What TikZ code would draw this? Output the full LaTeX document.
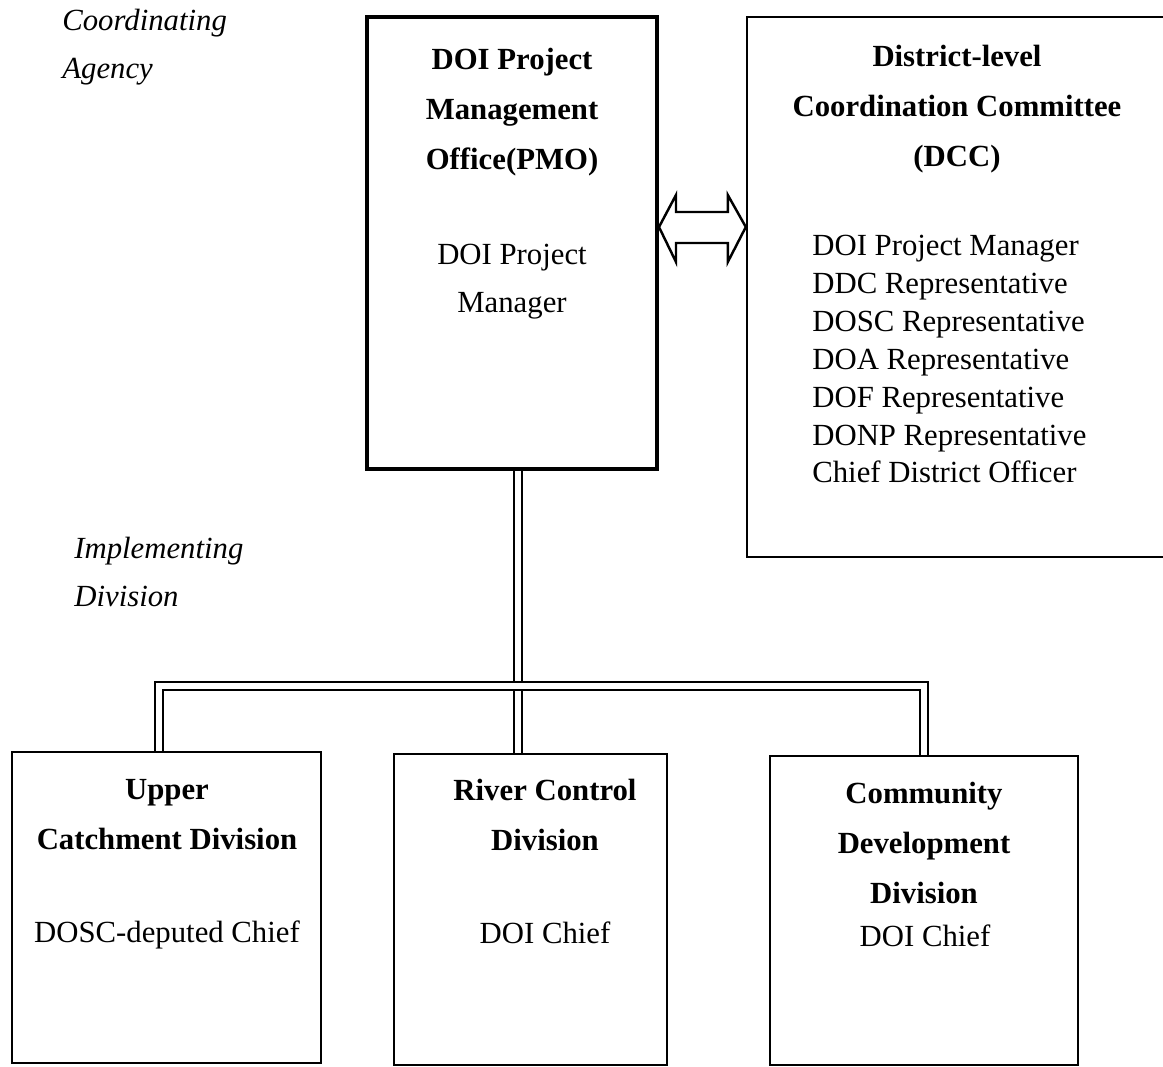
\documentclass[tikz,border=0pt]{standalone}
\usepackage{fontspec}
\setmainfont{Liberation Serif}
\usetikzlibrary{calc}

\begin{document}
\begin{tikzpicture}[x=0.02cm,y=-0.02cm,
    box/.style={draw, line width=1.4pt, inner sep=0pt},
    link/.style={draw, double, line width=0.9pt, double distance=3.5pt},
    head/.style={font=\bfseries\fontsize{17.5}{28.4}\selectfont, align=center, anchor=north, inner sep=0pt},
    body/.style={font=\fontsize{17.5}{27.3}\selectfont, align=center, anchor=north, inner sep=0pt},
    side/.style={font=\itshape\fontsize{17.5}{27.3}\selectfont, align=left, anchor=north west, inner sep=0pt},
    member/.style={font=\fontsize{17.5}{21.5}\selectfont, anchor=base west, inner sep=0pt}]

  \clip (0,0) rectangle (1163,1067);

  \begin{scope}[every node/.style={box}]
    \node[line width=2.3pt, minimum width=5.8cm, minimum height=9.04cm] (pmo) at (512,243) {};
    \node[minimum width=8.56cm, minimum height=10.8cm] (dcc) at (961,287) {};
    \node[minimum width=6.18cm, minimum height=6.22cm] (uc) at (166.5,907.5) {};
    \node[minimum width=5.46cm, minimum height=6.22cm] (rc) at (530.5,909.5) {};
    \node[minimum width=6.16cm, minimum height=6.18cm] (cd) at (924,910.5) {};
  \end{scope}

  % side labels
  \node[side] (agency) at (62,9) {Coordinating\\Agency};
  \node[side] (impl) at (74,537) {Implementing\\Division};

  % project office
  \node[head] (pmohead) at (512,48) {DOI Project\\Management\\Office(PMO)};
  \node[body] (pmobody) at (512,244) {DOI Project\\Manager};

  % district committee
  \node[head] (dcchead) at (957,45) {District-level\\Coordination Committee\\(DCC)};
  \foreach \who [count=\i from 0] in {DOI Project Manager, DDC Representative,
      DOSC Representative, DOA Representative, DOF Representative,
      DONP Representative, Chief District Officer}
    \node[member] (dcc\i) at (812,256+37.8*\i) {\who};

  % divisions
  \node[head] (uchead) at (167,779) {Upper\\Catchment Division};
  \node[body] (ucbody) at (167,920) {DOSC-deputed Chief};
  \node[head] (rchead) at (545,779) {River Control\\Division};
  \node[body] (rcbody) at (545,921) {DOI Chief};
  \node[head] (cdhead) at (924,782) {Community\\Development\\Division};
  \node[body] (cdbody) at (925,924) {DOI Chief};

  % two-way arrow between office and committee
  \coordinate (ltip) at (pmo.east |- 0,227);
  \coordinate (rtip) at (dcc.west |- 0,227);
  \draw[line width=1.4pt, line join=miter] (ltip) -- ++(17,-32) -- ++(0,17)
    -- ($(rtip)+(-18,-15)$) -- ++(0,-17) -- (rtip) -- ++(-18,35) -- ++(0,-19)
    -- ($(ltip)+(17,16)$) -- ++(0,19) -- cycle;

  % reporting lines
  \coordinate (bus) at (518,686);
  \coordinate (ucdrop) at (159,686);
  \coordinate (cddrop) at (924,686);
  \draw[link] (pmo.south -| bus) -- (rc.north -| bus);
  \draw[link] (uc.north -| ucdrop) -- (ucdrop) -- (cddrop) -- (cd.north -| cddrop);

\end{tikzpicture}
\end{document}
